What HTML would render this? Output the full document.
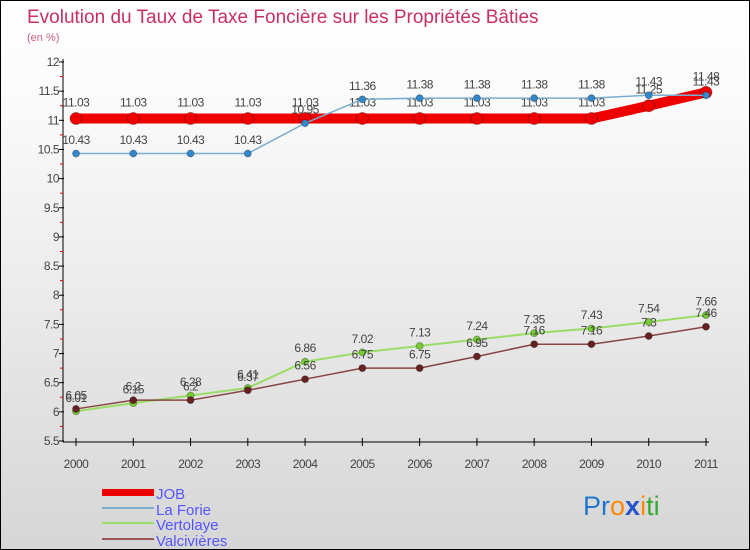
<!DOCTYPE html>
<html><head><meta charset="utf-8"><style>
body{margin:0}
#c{width:750px;height:550px;position:relative;box-sizing:border-box;border:1px solid #000;background:linear-gradient(#fff,#fafafa 20%,#d6d6d6);font-family:"Liberation Sans",sans-serif;overflow:hidden}
svg text{font-family:"Liberation Sans",sans-serif}
</style></head><body>
<div id="c">
<svg width="750" height="550" id="s">
<text x="26" y="22" font-size="19" fill="#c8305f">Evolution du Taux de Taxe Foncière sur les Propriétés Bâties</text>
<text x="26" y="40" font-size="11" fill="#d06088">(en %)</text>
<g id="ax"></g><g id="ser"></g>
<g>
<rect x="101" y="488" width="52" height="7" fill="#ee0000"/>
<text x="155" y="498" font-size="15" fill="#5555ff">JOB</text>
<rect x="101" y="506" width="52" height="2" fill="#7aaed0"/>
<text x="155" y="514" font-size="15" fill="#5555ff">La Forie</text>
<rect x="101" y="521" width="52" height="2" fill="#99dd66"/>
<text x="155" y="529" font-size="15" fill="#5555ff">Vertolaye</text>
<rect x="101" y="537" width="52" height="2" fill="#995555"/>
<text x="155" y="545" font-size="15" fill="#5555ff">Valcivières</text>
</g>
<text x="582" y="514" font-size="27"><tspan fill="#2277cc">Pr</tspan><tspan fill="#ff8800">o</tspan><tspan fill="#2255cc" font-weight="bold">x</tspan><tspan fill="#ff8800">i</tspan><tspan fill="#33aa33">ti</tspan></text>
</svg></div>
<script>
const years=[2000,2001,2002,2003,2004,2005,2006,2007,2008,2009,2010,2011];
const yTicks=[5.5,6,6.5,7,7.5,8,8.5,9,9.5,10,10.5,11,11.5,12];
const job=[11.03,11.03,11.03,11.03,11.03,11.03,11.03,11.03,11.03,11.03,11.25,11.48];
const laForie=[10.43,10.43,10.43,10.43,10.95,11.36,11.38,11.38,11.38,11.38,11.43,11.43];
const vertolaye=[6.01,6.15,6.28,6.41,6.86,7.02,7.13,7.24,7.35,7.43,7.54,7.66];
const valcivieres=[6.05,6.2,6.2,6.37,6.56,6.75,6.75,6.95,7.16,7.16,7.3,7.46];
const NS='http://www.w3.org/2000/svg';
const X=i=>75+i*(630/11);
const Y=v=>61+(12-v)*(379/6.5);
function mk(t,a,p){const e=document.createElementNS(NS,t);for(const k in a)e.setAttribute(k,a[k]);p.appendChild(e);return e;}
const ax=document.getElementById('ax');
let l=mk('line',{x1:62,y1:58,x2:62,y2:441,stroke:'#000'},ax);


l=mk('line',{x1:62,y1:441,x2:708,y2:441,stroke:'#000'},ax);


yTicks.forEach((v,i)=>{
 mk('line',{x1:58,y1:Y(v),x2:63,y2:Y(v),stroke:'#000'},ax);
 if(i<yTicks.length-1)mk('line',{x1:59,y1:Y(v+0.25),x2:62,y2:Y(v+0.25),stroke:'#e00'},ax);
 const t=mk('text',{x:58,y:Y(v)+4,'font-size':12,'text-anchor':'end',fill:'#444','letter-spacing':'-0.5'},ax);t.textContent=String(v);
 
 
});
years.forEach((y,i)=>{
 mk('line',{x1:X(i),y1:437,x2:X(i),y2:445,stroke:'#000'},ax);
 const t=mk('text',{x:X(i),y:467,'font-size':12,'text-anchor':'middle',fill:'#444','letter-spacing':'-0.5'},ax);t.textContent=y;
 
 
});
const ser=document.getElementById('ser');
function draw(d,col,w,r,dot,name){
 const g=mk('g',{},ser);
 
 
 const p=mk('polyline',{points:d.map((v,i)=>X(i)+','+Y(v)).join(' '),fill:'none',stroke:col,'stroke-width':w,'stroke-linejoin':'round'},g);
 
 
 d.forEach((v,i)=>{
  const c=mk('circle',{cx:X(i),cy:Y(v),r:r,fill:dot,stroke:'#00000044'},g);
  
  
  const t=mk('text',{x:X(i),y:Y(v)-(r+6),'font-size':12,'text-anchor':'middle',fill:'#444','letter-spacing':'-0.5'},g);t.textContent=v;
  
  
 });
}
draw(job,'#ee0000',10,6,'#ee0000','job');
draw(laForie,'#7aaed0',1.5,3.5,'#3388cc','la-forie');
draw(vertolaye,'#99dd66',2,3.5,'#77cc33','vertolaye');
draw(valcivieres,'#884444',1.5,3.5,'#662222','valcivieres');
</script>
</body></html>
